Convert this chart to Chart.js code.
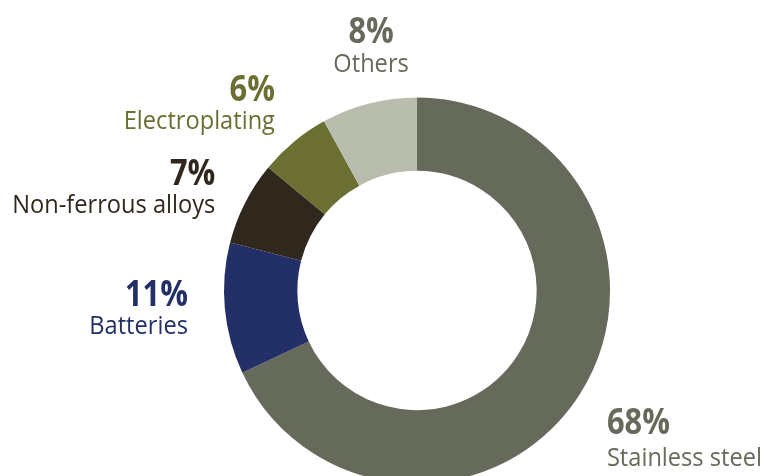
<!DOCTYPE html>
<html>
<head>
<meta charset="utf-8">
<script src="https://cdn.jsdelivr.net/npm/chart.js@4.4.1/dist/chart.umd.min.js"></script>
<style>
  html, body { margin: 0; padding: 0; background: #fff; overflow: hidden; }
  #wrap { position: relative; width: 765px; height: 520px; }
</style>
</head>
<body>
<div id="wrap"><canvas id="chart"></canvas></div>
<script>
(function() {
    'use strict';

    // Data (clockwise from 12 o'clock)
    const categories = ['Stainless steel', 'Batteries', 'Non-ferrous alloys', 'Electroplating', 'Others'];
    const shares = [68, 11, 7, 6, 8];
    const sliceColors = ['#656a5a', '#233067', '#30281d', '#6b6f31', '#b9bdad'];
    const textColors = ['#656a5a', '#233067', '#30281d', '#6b6f31', '#656a5a'];

    // Label anchors relative to the ring centre, in units of outer radius
    const labelAnchors = [
        { dx: 0.984, dy: 0.834, align: 'left', gap: 32 },
        { dx: -1.187, dy: 0.150, align: 'right', gap: 28 },
        { dx: -1.045, dy: -0.477, align: 'right', gap: 28 },
        { dx: -0.736, dy: -0.912, align: 'right', gap: 28 },
        { dx: -0.238, dy: -1.212, align: 'center', gap: 29 }
    ];

    // the source uses a condensed face, so narrow the type a little
    function drawText(ctx, text, x, y, align, font, squeeze) {
        ctx.save();
        ctx.font = font;
        const w = ctx.measureText(text).width * squeeze;
        let left = x;
        if (align === 'right') left = x - w;
        else if (align === 'center') left = x - w / 2;
        ctx.translate(left, y);
        ctx.scale(squeeze, 1);
        ctx.textAlign = 'left';
        ctx.textBaseline = 'alphabetic';
        ctx.fillText(text, 0, 0);
        ctx.restore();
    }

    const sliceLabels = {
        id: 'sliceLabels',
        afterDatasetsDraw(chart) {
            const ctx = chart.ctx;
            const meta = chart.getDatasetMeta(0);
            meta.data.forEach((arc, i) => {
                const r = arc.outerRadius;
                const a = labelAnchors[i];
                const x = arc.x + a.dx * r;
                const y = arc.y + a.dy * r + 15;
                ctx.fillStyle = textColors[i];
                drawText(ctx, shares[i] + '%', x, y - a.gap, a.align, 'bold 35px "Open Sans", "Noto Sans", sans-serif', 0.88);
                drawText(ctx, categories[i], x, y, a.align, '25px "Open Sans", "Noto Sans", sans-serif', 0.945);
            });
        }
    };

    new Chart(document.getElementById('chart'), {
        type: 'doughnut',
        data: {
            labels: categories,
            datasets: [{
                data: shares,
                backgroundColor: sliceColors,
                borderWidth: 0,
                hoverOffset: 0
            }]
        },
        options: {
            responsive: true,
            maintainAspectRatio: false,
            animation: false,
            cutout: '62%',
            layout: { padding: { top: 97, bottom: 36, left: 224, right: 155 } },
            plugins: { legend: { display: false }, tooltip: { enabled: false } }
        },
        plugins: [sliceLabels]
    });
})();
</script>
</body>
</html>
